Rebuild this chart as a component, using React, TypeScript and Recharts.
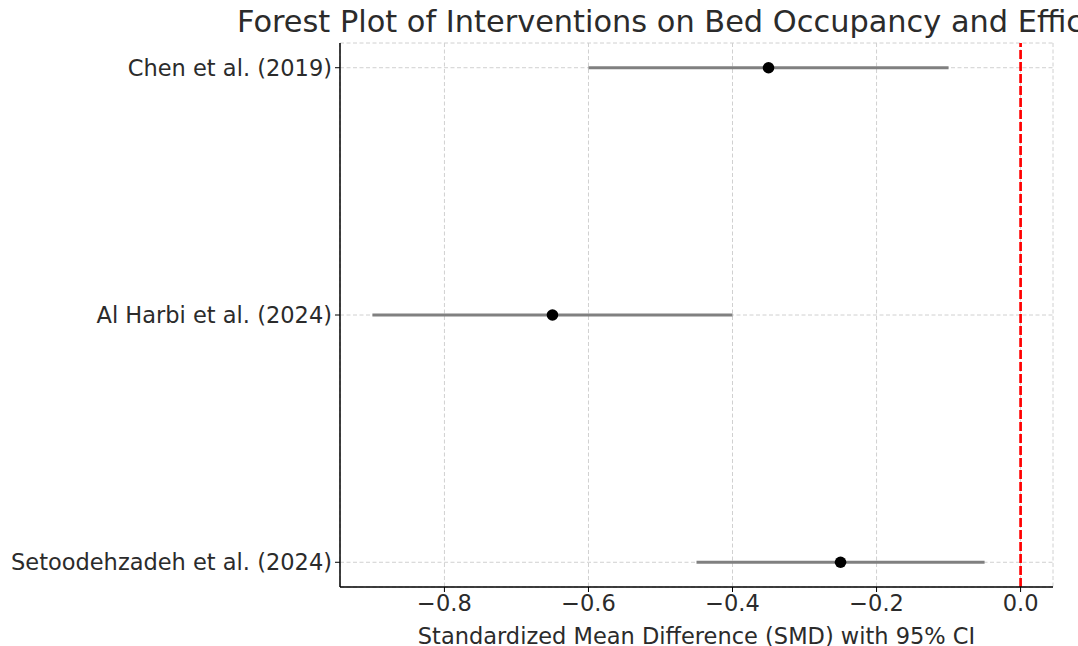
import React from "react";
import {
  ScatterChart,
  Scatter,
  XAxis,
  YAxis,
  CartesianGrid,
  ReferenceLine,
  ErrorBar,
} from "recharts";

const studies = ["Chen et al. (2019)", "Al Harbi et al. (2024)", "Setoodehzadeh et al. (2024)"];
const smd = [-0.35, -0.65, -0.25];
const ciLow = [-0.6, -0.9, -0.45];
const ciHigh = [-0.1, -0.4, -0.05];
const xTicks = [-0.8, -0.6, -0.4, -0.2, 0.0];

const data = studies.map((s, i) => ({
  y: i,
  x: smd[i],
  err: [smd[i] - ciLow[i], ciHigh[i] - smd[i]],
}));

const FONT = "'DejaVu Sans', sans-serif";
const TXT = "#2b2b2b";

const fmtX = (v: number) => {
  const s = Math.abs(v).toFixed(1);
  return v < -1e-9 ? "\u2212" + s : s;
};

export default function App() {
  return (
    <div style={{ position: "absolute", left: 0, top: 0, width: 1078, height: 646, background: "#fff", overflow: "hidden" }}>
      <div
        style={{
          position: "absolute",
          left: 237,
          top: 4,
          fontFamily: FONT,
          fontSize: 30.4,
          lineHeight: "35px",
          color: TXT,
          whiteSpace: "nowrap",
        }}
      >
        Forest Plot of Interventions on Bed Occupancy and Efficiency
      </div>
      <ScatterChart width={1078} height={646} margin={{ top: 43, right: 25, bottom: 0, left: 0 }}>
        <CartesianGrid stroke="#d0d0d0" strokeDasharray="4 2.5" strokeWidth={1} />
        <XAxis
          type="number"
          dataKey="x"
          domain={[-0.945, 0.045]}
          ticks={xTicks}
          tickFormatter={fmtX}
          height={59}
          allowDataOverflow
          axisLine={{ stroke: "#000", strokeWidth: 1.5 }}
          tickLine={{ stroke: "#000" }}
          tickSize={5}
          tickMargin={3}
          tick={{ fill: TXT, fontSize: 22.5, fontFamily: FONT }}
          label={{
            value: "Standardized Mean Difference (SMD) with 95% CI",
            position: "insideBottom",
            offset: 2,
            fill: TXT,
            fontSize: 22.5,
            fontFamily: FONT,
          }}
        />
        <YAxis
          type="number"
          dataKey="y"
          domain={[-0.1, 2.1]}
          reversed
          ticks={[0, 1, 2]}
          tickFormatter={(v: number) => studies[v] ?? ""}
          width={340}
          allowDataOverflow
          axisLine={{ stroke: "#000", strokeWidth: 1.5 }}
          tickLine={{ stroke: "#000" }}
          tickSize={5}
          tickMargin={3}
          tick={{ fill: TXT, fontSize: 22.5, fontFamily: FONT }}
        />
        <ReferenceLine x={0} stroke="#ff0000" strokeWidth={2.7} strokeDasharray="9 3" ifOverflow="visible" />
        <Scatter data={data} fill="#000" isAnimationActive={false} shape={(p: any) => <circle cx={p.cx} cy={p.cy} r={5.8} fill="#000" />}>
          <ErrorBar dataKey="err" direction="x" width={0} stroke="#808080" strokeWidth={2.8} />
        </Scatter>
      </ScatterChart>
    </div>
  );
}
